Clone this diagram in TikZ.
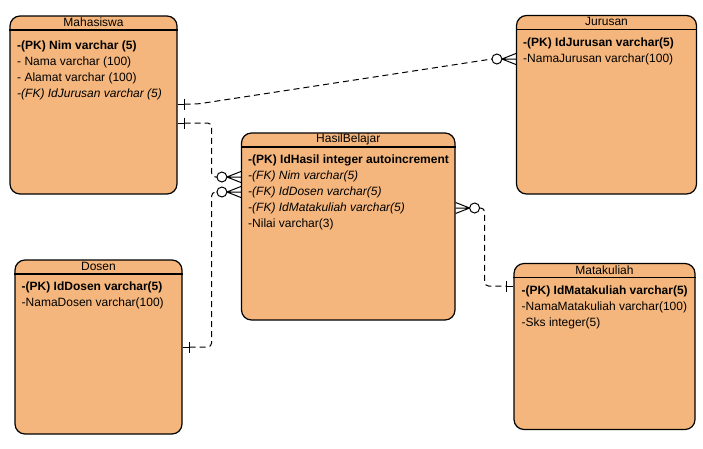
\documentclass[tikz,border=0pt]{standalone}
\usepackage{fontspec}
\setmainfont{Liberation Sans}
\usetikzlibrary{calc}
\usetikzlibrary{positioning}
\definecolor{erorange}{RGB}{244,182,124}

\begin{document}
\begin{tikzpicture}[x=1pt,y=-1pt,node distance=16pt,on grid,
        every node/.style={font=\fontsize{12}{14}\selectfont,inner sep=0pt},
        entity/.style={draw,fill=erorange,rounded corners=10pt,line width=1.2pt},
        attr/.style={anchor=west,text height=8.8pt,text depth=2.5pt},
        pk/.style={attr,font=\fontsize{12}{14}\selectfont\bfseries},
        fk/.style={attr,font=\fontsize{12}{14}\selectfont\itshape},
        rel/.style={dash pattern=on 6pt off 4pt,line width=1pt,rounded corners=4pt},
        zeromany/.pic={\draw[line width=1pt] (-19,0) circle (5pt);
                       \draw[line width=1pt] (-14,0) -- (0,-5.5) (-14,0) -- (0,0) (-14,0) -- (0,5.5);},
        onebar/.pic={\draw[line width=1pt] (0,0) -- (7,0) (7,-5.5) -- (7,5.5);}]

        \useasboundingbox (0,0) rectangle (703,448);

        \node[entity,minimum width=167pt,minimum height=178pt] (mhs) at (93.5,105) {};
        \node[entity,minimum width=180pt,minimum height=178.5pt] (jur) at (606.5,104.75) {};
        \node[entity,minimum width=213.5pt,minimum height=187pt] (hb) at (348.25,226.5) {};
        \node[entity,minimum width=167pt,minimum height=174pt] (dsn) at (98.5,347) {};
        \node[entity,minimum width=181pt,minimum height=166pt] (mk) at (604.5,346.5) {};

        \draw[line width=1.2pt] ([yshift=-14.5pt]mhs.north west) -- ([yshift=-14.5pt]mhs.north east);
        \draw[line width=1.2pt] ([yshift=-14.5pt]jur.north west) -- ([yshift=-14.5pt]jur.north east);
        \draw[line width=1.2pt] ([yshift=-14.5pt]hb.north west) -- ([yshift=-14.5pt]hb.north east);
        \draw[line width=1.2pt] ([yshift=-14.5pt]dsn.north west) -- ([yshift=-14.5pt]dsn.north east);
        \draw[line width=1.2pt] ([yshift=-14.5pt]mk.north west) -- ([yshift=-14.5pt]mk.north east);

        \node (mhsT) at ([yshift=-7pt]mhs.north) {Mahasiswa};
        \node (jurT) at ([yshift=-7pt]jur.north) {Jurusan};
        \node (hbT) at ([yshift=-7pt]hb.north) {HasilBelajar};
        \node (dsnT) at ([yshift=-7pt]dsn.north) {Dosen};
        \node (mkT) at ([yshift=-7pt]mk.north) {Matakuliah};

        \node[pk] (mhs1) at (17,46) {-(PK) Nim varchar (5)};
        \node[attr] (mhs2) at (17,62) {- Nama varchar (100)};
        \node[attr] (mhs3) at (17,78) {- Alamat varchar (100)};
        \node[fk] (mhs4) at (17,94) {-(FK) IdJurusan varchar (5)};

        \node[pk] (jur1) at (523,43) {-(PK) IdJurusan varchar(5)};
        \node[attr] (jur2) at (523,59) {-NamaJurusan varchar(100)};

        \node[pk] (hb1) at (248,160) {-(PK) IdHasil integer autoincrement};
        \node[fk] (hb2) at (248,176.5) {-(FK) Nim varchar(5)};
        \node[fk] (hb3) at (248,192.5) {-(FK) IdDosen varchar(5)};
        \node[fk] (hb4) at (248,208.5) {-(FK) IdMatakuliah varchar(5)};
        \node[attr] (hb5) at (248,224.5) {-Nilai varchar(3)};

        \node[pk] (dsn1) at (21.5,287.5) {-(PK) IdDosen varchar(5)};
        \node[attr] (dsn2) at (21.5,303.5) {-NamaDosen varchar(100)};

        \node[pk] (mk1) at (521.5,291) {-(PK) IdMatakuliah varchar(5)};
        \node[attr] (mk2) at (521.5,307) {-NamaMatakuliah varchar(100)};
        \node[attr] (mk3) at (521.5,323) {-Sks integer(5)};

        \coordinate (mhsR1) at (mhs.east |- 0,104);
        \coordinate (mhsR2) at (mhs.east |- 0,123);
        \coordinate (jurL) at (jur.west |- 0,59);
        \coordinate (hbL1) at (hb.west |- 0,177);
        \coordinate (hbL2) at (hb.west |- 0,192);
        \coordinate (hbR) at (hb.east |- 0,208);
        \coordinate (dsnR) at (dsn.east |- 0,347);
        \coordinate (mkL) at (mk.west |- 0,286);

        \draw[rel] ($(mhsR1)+(7,0)$) -- ++(13,0) -- ($(jurL)+(-24,0)$);
        \draw[rel] ($(mhsR2)+(7,0)$) -- ++(27,0) |- ($(hbL1)+(-24,0)$);
        \draw[rel] ($(dsnR)+(7,0)$) -- ++(22,0) |- ($(hbL2)+(-24,0)$);
        \draw[rel] ($(hbR)+(24,0)$) -- ++(5,0) |- ($(mkL)+(-7,0)$);

        \pic at (mhsR1) {onebar};
        \pic at (mhsR2) {onebar};
        \pic at (dsnR) {onebar};
        \pic[xscale=-1] at (mkL) {onebar};
        \pic at (jurL) {zeromany};
        \pic at (hbL1) {zeromany};
        \pic at (hbL2) {zeromany};
        \pic[xscale=-1] at (hbR) {zeromany};

\end{tikzpicture}
\end{document}
